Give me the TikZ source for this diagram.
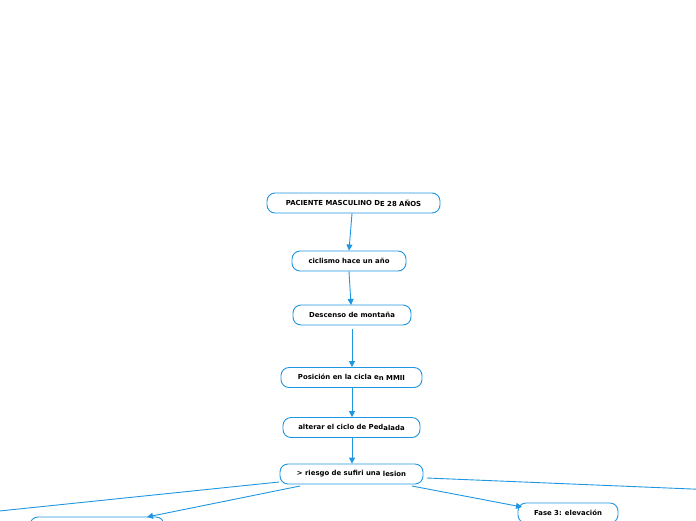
\documentclass[tikz,border=0pt]{standalone}
\usepackage{fontspec}
\setmainfont{DejaVu Sans}
\usetikzlibrary{arrows.meta}
\definecolor{mmblue}{RGB}{30,150,225}
\begin{document}
\begin{tikzpicture}[x=1pt,y=-1pt,
  box/.style={draw=mmblue,line width=0.9pt,rounded corners=8pt,fill=white,minimum height=20pt,inner sep=0pt,font=\fontsize{6.9}{8}\selectfont\bfseries,text=black},
  conn/.style={draw=mmblue,line width=0.9pt,-{Triangle[length=6pt,width=6pt]}},
  link/.style={draw=mmblue,line width=0.9pt}]
\useasboundingbox (0,0) rectangle (696,520);
\clip (0,0) rectangle (696,520);
\node[box,minimum width=173pt] (n1) at (353.5,203) {PACIENTE MASCULINO D\raisebox{-0.6pt}{E 28 AÑOS}};
\node[box,minimum width=114pt] (n2) at (349,261) {ciclismo hace un año};
\node[box,minimum width=118pt] (n3) at (352,315) {Descenso de montaña};
\node[box,minimum width=141pt] (n4) at (351.5,377.5) {Posición en la cicla e\raisebox{-1pt}{n MMII}};
\node[box,minimum width=137pt] (n5) at (351.5,427.5) {alterar el ciclo de Ped\raisebox{-1pt}{alada}};
\node[box,minimum width=143pt] (n6) at (351.5,474) {> riesgo de sufiri una \raisebox{-1pt}{lesion}};
\node[box,minimum width=100pt] (n7) at (568,513) {Fase 3: elevación};
\node[box,minimum width=134pt] (n8) at (97,527) {};
\coordinate (offL) at (-20,513);
\coordinate (offR) at (716,490);
\draw[conn] (n1.south -| 352,0) -- (n2.north);
\draw[conn] (n2.south) -- (351,305);
\draw[conn] (352,329) -- (n4.north -| 352,0);
\draw[conn] (n4.south -| 352,0) -- (n5.north -| 352,0);
\draw[conn] (n5.south -| 352,0) -- (n6.north -| 352,0);
\draw[conn] (300,486) -- (147,517);
\draw[conn] (412,486) -- (522,507);
\draw[link] (279,482) -- (offL);
\draw[link] (427,478) -- (offR);
\end{tikzpicture}
\end{document}
